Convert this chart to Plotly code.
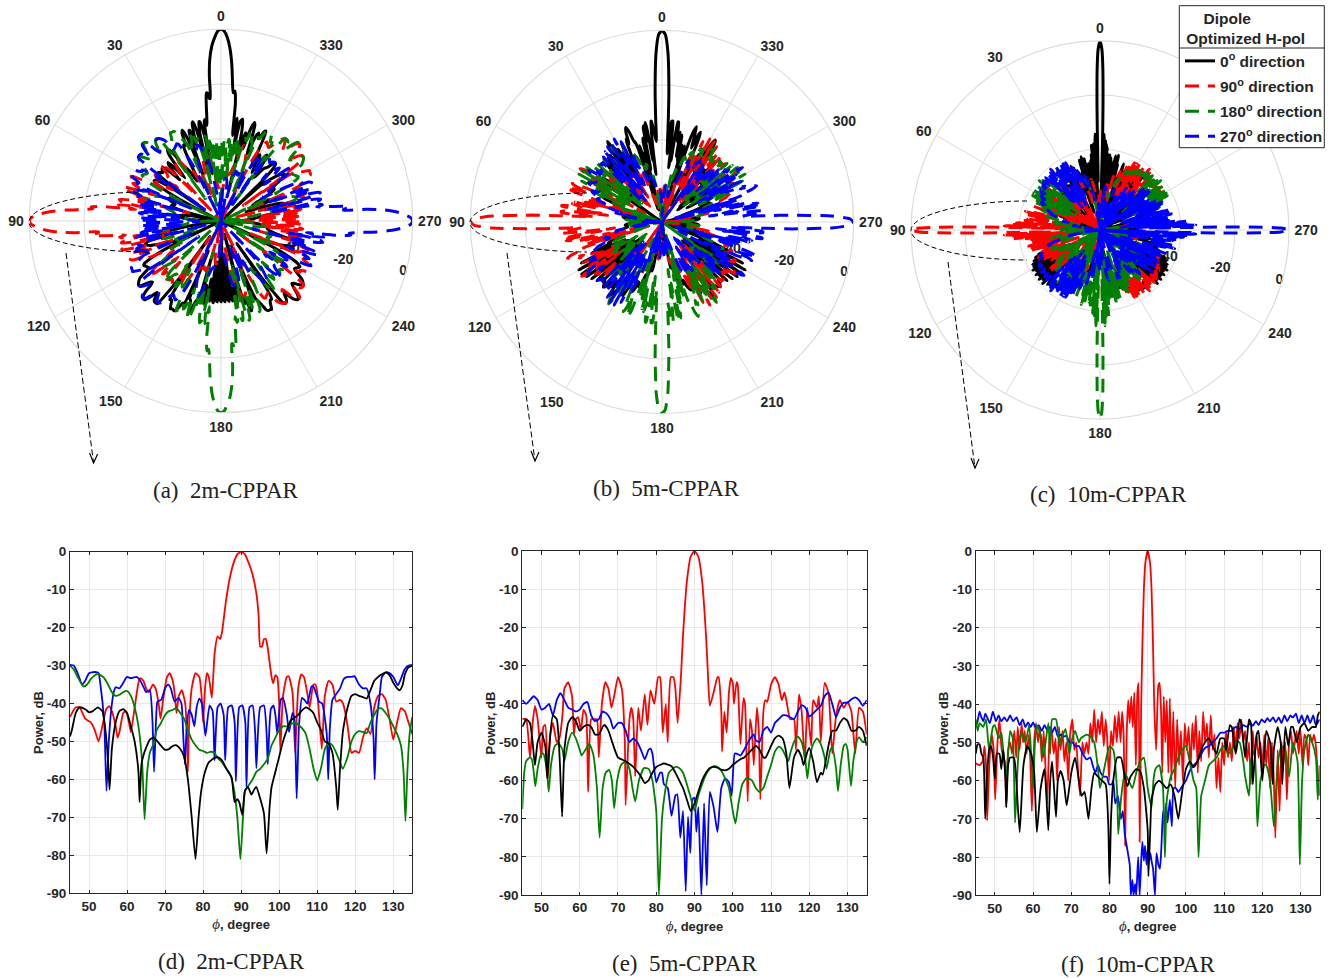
import numpy as np
import plotly.graph_objects as go

W, H = 1332, 978

# ---------- values: (phi degree, power dB) ----------
d_red = [(45,-43.5),(46.5,-41),(47.5,-41),(49,-44),(50.5,-45),(51.5,-47),(52.5,-50),(53.5,-46),(54.5,-41.5),(55.3,-40.7),(56,-42),(57,-46),(57.5,-49),(58,-47.5),(59,-42.5),(59.7,-42),(60.5,-45),(61,-47.5),(62,-41),(63,-34.5),(63.5,-33.3),(64.3,-34),(65,-36),(65.7,-37),(66.8,-35),(67.5,-36),(68.3,-40),(68.8,-44),(69.5,-39),(70.5,-33),(71.2,-32),(72,-34),(72.6,-38),(73,-42.5),(73.6,-38),(74.4,-36.5),(75.3,-40),(75.8,-50),(76,-58),(76.3,-46),(77,-36),(78,-32),(79,-33),(79.6,-38),(80,-45),(80.5,-36),(81,-32),(81.5,-33),(82.3,-38.5),(83,-27),(83.8,-22.3),(84.5,-23),(85,-21),(86,-13),(87,-7),(88,-3),(89,-0.7),(90,0),(91,-0.7),(92,-3),(93,-6),(94,-11),(94.6,-17),(95,-25),(95.5,-25),(96,-23),(96.5,-23),(97,-25.5),(98,-33),(98.4,-34.7),(99,-32.5),(99.5,-33),(100,-40),(100.3,-52.5),(101,-38),(102,-33),(102.5,-32.8),(103.5,-37),(104.2,-53),(105,-36),(105.8,-32.3),(106.5,-33),(107.5,-38),(108,-41),(109,-35),(109.5,-35),(110,-37),(111.2,-52),(112,-38),(113,-34),(114,-35),(115,-39.5),(116,-39),(116.8,-40),(118,-46),(118.5,-50),(119,-53),(120,-52.5),(121,-53),(122,-49),(123,-46.5),(124,-48),(125,-41),(126,-38),(127,-37.5),(128,-39),(129,-44),(130,-49.5),(131,-45),(132,-41.2),(133,-42),(134,-45),(135,-48)]
d_blue = [(45,-29.8),(46,-30),(47,-32),(48.2,-35),(49,-34),(50,-32),(51.5,-31.7),(52.5,-32),(53,-35),(54,-45),(54.6,-63),(55.2,-50),(55.8,-42),(56.5,-37),(57,-35.7),(58,-36),(59,-34.5),(60,-33),(61,-33.3),(62.5,-33),(63.5,-34),(64.5,-36),(65,-37),(66,-36.5),(66.7,-45),(67.1,-58),(67.6,-45),(68,-39.5),(69,-39),(70,-36),(70.8,-35),(71.5,-36),(72.5,-39.5),(73.5,-38.5),(74.3,-40),(74.8,-49),(75.2,-56),(75.7,-46),(76.3,-41.7),(77,-43),(77.7,-46),(78.3,-41),(79,-38.7),(79.7,-40),(80.6,-48.5),(81.7,-40.5),(82.5,-42),(83,-55),(83.8,-41),(84.6,-40),(85.4,-43),(85.8,-55),(86.6,-41),(87.5,-40.5),(88.3,-45),(88.6,-60.5),(89.5,-41),(90.3,-40.5),(91.1,-45),(91.4,-62),(92.2,-41),(93,-40.5),(93.7,-48),(94,-57),(95,-41),(96,-40.5),(96.7,-48),(97,-56),(97.8,-41.5),(98.5,-40.5),(99,-43),(99.5,-48),(100.4,-39),(101,-38.5),(102,-43),(102.6,-47.5),(103.5,-42.5),(104,-44),(104.6,-65),(105.2,-46),(106,-38.5),(106.6,-39),(107.4,-40),(108.5,-35.5),(109,-35.5),(110.5,-39.5),(111.3,-40),(112.5,-48),(112.9,-60),(113.3,-47),(114,-39),(115,-37.5),(116,-36),(117,-33.5),(118,-33),(119,-33),(119.8,-32.8),(121,-35),(122,-36),(123,-36),(124,-40),(124.8,-49),(125.1,-60),(125.6,-45),(126.5,-37),(127,-33),(128,-31.8),(129,-32),(130,-33),(131.2,-35.2),(132,-33.5),(133,-31),(134,-30),(135,-29.8)]
d_black = [(45,-48.7),(45.5,-47),(46.5,-42.5),(47.5,-41),(49,-41.5),(50,-42.3),(51,-42),(52.3,-41),(53.5,-42),(54.2,-46),(55,-55),(55.4,-62.7),(56,-52),(57,-45),(58,-42),(59,-41.5),(60,-42.5),(61,-46),(62,-50),(63,-58),(63.3,-66),(63.8,-56),(64.5,-53),(66,-49.5),(67,-49),(68,-50),(70,-52.2),(71,-52),(72,-51.2),(73,-51),(74,-52),(75,-54),(76,-60),(77,-70),(78,-81),(78.8,-70),(79.5,-63),(80.5,-58),(81.5,-55.5),(83,-54.3),(84,-54.2),(85,-55),(86,-57),(87.5,-59.5),(88.3,-66),(89,-65.2),(89.5,-66),(90.3,-69.3),(91,-63),(91.8,-62),(92.7,-64),(93.5,-62.5),(94,-62),(95,-65),(96,-69),(96.7,-79.5),(97.5,-67),(98,-62),(99,-58),(100,-54),(101,-50),(102,-47),(103,-44.5),(105,-43),(106,-41.8),(107,-41),(108,-41.5),(109,-42.5),(110,-45),(111,-47),(112,-50),(113,-50.5),(114,-53),(115,-62),(115.4,-68),(116,-57),(116.8,-47),(118,-41),(119,-38),(120,-37.5),(121,-38),(122,-38.3),(123,-38.7),(124,-36.5),(125,-34),(126,-33),(127,-32.3),(128,-31.8),(129,-32.5),(130,-34.5),(131,-36),(131.7,-36.5),(132.5,-35),(133,-32.5),(134,-30.5),(135,-30)]
d_green = [(45,-30),(46,-31),(47,-33),(48.5,-35.5),(49.5,-35),(50.5,-33.5),(52,-32.3),(53,-32.5),(54,-33.3),(55,-35),(56,-37),(57,-38),(58,-37.7),(59,-37),(60,-36.7),(61,-38),(62,-41),(63,-46),(64,-56),(64.6,-70.5),(65.3,-58),(66,-53),(67,-50.5),(67.8,-47),(69,-45),(70,-43),(71,-42),(72,-41.7),(73,-41.2),(74,-42.5),(75,-44),(76,-47),(77,-49.5),(78,-51),(79,-52.2),(80,-52.5),(81,-53),(82,-52.7),(83,-53),(84,-54.5),(85,-55.5),(86,-57),(87,-58.5),(88,-62),(89,-70),(89.8,-81),(90.5,-70),(91,-63),(92,-61.5),(93,-60),(94,-58),(95,-57.2),(96,-56),(97,-54.5),(98,-51),(99,-49),(100,-47),(101,-46),(102,-46),(103,-45.5),(104,-45),(105,-45.5),(106,-46.5),(107,-48),(108,-52),(109,-57),(110,-60.3),(111,-57),(112,-52),(113,-50.3),(114,-51),(115,-53),(116,-55.5),(116.7,-57.2),(118,-54),(119,-50),(120,-48),(121,-47.3),(122,-47.5),(123,-47.8),(124,-45),(125,-43),(126,-41.3),(127,-41.3),(128,-42.5),(129,-44),(130,-46),(131,-48),(132,-51),(132.7,-58),(133.2,-71),(133.7,-58),(134.3,-48),(135,-43.5)]

e_red = [(45,-44),(46,-44),(47,-54),(47.7,-45),(48.3,-40.5),(49,-44),(50,-54),(50.5,-46),(51,-45.5),(51.7,-59.5),(52.3,-48),(53,-45),(54,-50),(54.7,-49),(55.5,-43),(56,-36),(57,-34.3),(58,-38),(58.5,-48),(59,-44),(59.6,-43.5),(60.3,-47),(61,-41.5),(61.7,-43),(62.2,-63),(63,-44),(63.8,-44),(64.5,-44),(65,-54),(65.8,-40),(66.7,-34.3),(67.5,-36),(68.3,-41),(69,-38),(70,-33),(71,-36),(71.8,-50),(72,-66.5),(73,-44),(73.5,-41),(74,-44),(74.5,-59),(75.3,-41),(76,-47),(77,-37.5),(77.7,-45.5),(78.5,-36.5),(79.5,-40),(80.5,-33),(81,-33),(81.7,-47.5),(82.5,-40),(83,-50),(83.8,-33),(84.5,-33),(85,-36),(85.6,-45),(86.5,-32),(87,-22),(88,-8),(89,-1.5),(90,0),(91,-1.5),(92,-8),(93,-22),(93.5,-32),(94,-40.5),(95,-37),(96,-33),(96.3,-33),(97,-42),(97.2,-52.5),(97.8,-42),(98.4,-47.5),(99,-37),(99.5,-33.2),(100,-34.5),(100.3,-40),(101,-34.3),(101.3,-35),(102,-50.5),(102.8,-38.5),(103.2,-40),(103.9,-65.5),(104.5,-44),(105,-47),(105.5,-56),(106.3,-41),(106.8,-47),(107.2,-65),(108,-42),(108.5,-39),(109,-39.5),(110,-35),(111,-33),(112,-35),(112.8,-39),(113.5,-37),(114,-39),(115,-44),(116,-44),(116.5,-52),(117.3,-37.5),(118,-42),(118.8,-55),(119.5,-41),(120.5,-51),(121,-39),(122,-41),(122.5,-38),(123,-50),(124,-34.5),(125,-37),(126,-53),(127,-43),(128,-39),(129,-41),(130,-39.5),(131,-42),(132,-53),(133,-41),(134,-42),(135,-48)]
e_blue = [(45,-39),(46,-40),(47,-39),(48,-38),(49,-39),(50,-41.5),(51,-41),(52,-40),(53,-43),(54,-39),(55,-37.2),(56,-39),(57,-41),(58,-41.5),(59,-42),(60,-41.5),(61,-40),(62,-39.5),(63,-43),(64,-44.5),(65,-44),(66,-42),(67,-42.5),(68,-44),(68.8,-46.5),(70,-45),(71,-45),(72,-47),(73,-50),(74,-49),(75,-50),(76,-52),(77,-54.5),(78,-52),(78.5,-51.7),(79,-53),(80,-60.5),(81,-58),(81.5,-58),(82,-61),(83,-62),(84,-69.3),(85,-64),(85.5,-63.7),(86.3,-75),(87,-68),(87.7,-89),(88.3,-69.5),(88.9,-79),(89.5,-65),(90,-64.5),(90.5,-73.5),(91,-67),(91.8,-90),(92.5,-66),(93.2,-87.5),(94,-63),(95,-67),(96,-73.5),(97,-62),(98,-59.5),(99,-60.5),(99.7,-64),(100.5,-53),(101,-53),(102,-53.5),(103,-52),(104,-50),(105,-48.5),(105.5,-48),(106,-49.5),(107,-50),(108,-47),(109,-46),(110,-47.5),(111,-45),(112,-44),(113,-43),(114,-43),(115,-43.5),(116,-44),(117,-42),(118,-40.3),(119,-41),(120,-43.3),(121,-42.5),(122,-41.5),(123,-40.5),(124,-38),(125,-37),(126,-40),(127,-43.5),(128,-41),(129,-39.7),(130,-39.7),(131,-38.8),(132,-38.3),(133,-39),(134,-40.5),(135,-39)]
e_black = [(45,-46),(45.5,-45),(46,-44),(47,-45),(47.7,-50),(48.3,-56),(49,-50),(50,-47.5),(51,-51),(51.5,-59.5),(52,-52),(53,-43),(54,-44),(54.8,-55),(55.4,-69.5),(56,-52),(57,-45),(58,-43.5),(59,-44.5),(60,-47),(61,-46),(62,-45.5),(63,-46),(64,-48),(65,-48),(66,-46),(66.5,-45.5),(67.5,-47),(68.5,-50),(70,-54),(72,-55),(74,-56.5),(76,-59),(77,-60.7),(78,-60),(79,-58),(80,-56.5),(82,-55.6),(84,-56.3),(85,-58),(86,-60),(87,-62),(88,-65),(89,-68),(90,-66),(91,-63),(92,-60),(93,-58),(94,-56.8),(95,-56.5),(96,-56.7),(97,-57.2),(98,-57.4),(99,-57),(100,-56),(102,-54.5),(103,-54),(104,-53),(105,-52),(106,-51),(107,-52),(108,-54),(108.6,-54),(110,-51),(111,-49),(112,-48.3),(113,-49),(114,-53),(114.8,-62),(116,-54),(117,-52),(118,-54),(118.5,-56),(119.5,-52.5),(120,-51.5),(121,-55),(122,-60.5),(123,-58),(123.5,-58.5),(125,-51),(126,-47),(127,-47),(128,-45),(129,-43.7),(130,-44.5),(131,-47),(132,-47),(133,-46),(134,-47),(135,-51)]
e_green = [(45,-67.5),(45.5,-58),(46,-55),(47,-54),(47.5,-54.5),(48,-58),(48.4,-61.5),(49,-57),(50,-53),(50.5,-53),(51.5,-58),(51.9,-63),(52.5,-56),(53.5,-51),(54.5,-50.3),(55.5,-52),(56,-55),(57,-50),(58,-47.5),(59,-49),(60,-52),(60.5,-53.5),(61.5,-52),(62.5,-50.5),(63.5,-53),(64.5,-62),(65.2,-75),(66,-62),(66.8,-58),(67.7,-57.3),(68.4,-60),(69,-67.3),(69.8,-60),(70.8,-56),(72,-55),(73,-57),(73.8,-62),(74.5,-65.5),(75.5,-60),(76.8,-56.8),(78,-57),(79,-60),(80,-68),(80.7,-90),(81.5,-70),(82.3,-63),(83.3,-58),(85,-56.5),(86,-56.8),(87,-58),(88,-61),(89,-64.5),(90,-68),(91,-64),(92,-61),(93,-58.5),(94,-57),(95,-56.3),(96,-56.5),(97,-57.5),(98,-59.5),(99,-62),(100,-68),(100.7,-71.3),(101.5,-66),(102.5,-61),(103.7,-59.3),(105,-60),(106,-62),(107,-63),(108,-62),(109,-59),(110,-56),(111,-52.5),(112,-51.2),(113,-52),(114.5,-55),(115,-53),(116,-50),(117,-48.5),(118,-50),(119,-55),(119.5,-59.5),(120,-55),(121,-50.5),(122,-49),(123,-50.5),(124,-54),(124.5,-57),(125.5,-52),(126,-51.3),(127,-57),(127.5,-62.8),(128.2,-56),(129,-51),(129.5,-50.5),(130,-52),(130.9,-61.5),(131.5,-55),(132.5,-49.5),(133,-48.7),(134,-50),(135,-48.7)]

f_red = [(45,-55.5),(46,-56),(46.8,-55),(47.3,-51),(47.8,-58),(48,-70.5),(48.6,-55),(49.2,-48),(49.7,-52),(50.1,-65),(50.7,-50),(51.2,-44),(51.8,-52),(52.6,-55),(53,-67),(53.5,-52),(54,-50),(54.5,-53),(55.1,-47),(55.6,-54),(56,-46),(56.5,-52),(57,-45),(57.4,-50),(57.8,-47),(58.3,-53),(58.9,-48),(59.3,-55),(59.7,-68),(60.3,-50),(60.8,-45),(61.3,-50),(61.8,-46),(62.3,-55),(62.8,-47),(63.3,-58),(63.7,-66),(64.3,-49),(64.8,-46),(65.4,-53),(65.9,-49),(66.3,-60),(66.8,-46),(67.2,-52),(67.7,-47),(68.2,-55),(68.7,-50),(69.2,-60),(69.7,-48),(70.3,-44),(70.8,-52),(71.3,-50),(71.8,-58),(72.3,-64),(72.9,-50),(73.4,-53),(74,-50),(74.5,-53),(75,-45),(75.5,-50),(76,-41.5),(76.5,-50),(77,-44),(77.5,-48),(78,-42),(78.5,-51),(79,-44),(79.4,-49),(79.9,-60),(80.4,-47),(80.9,-51),(81.4,-43),(81.9,-50),(82.4,-42),(82.9,-50),(83.3,-42),(83.7,-48),(84.1,-77),(84.5,-48),(84.9,-39),(85.3,-45),(85.7,-38),(86.1,-46),(86.5,-37),(86.9,-56),(87.3,-37),(87.6,-34.5),(87.9,-76),(88.3,-40),(88.6,-25),(89,-10),(89.4,-3),(90,0),(90.6,-3),(91,-10),(91.4,-25),(91.7,-40),(92.2,-52),(92.8,-35),(93.1,-34.5),(93.5,-42),(93.8,-58),(94.2,-38),(94.6,-50),(95,-39),(95.4,-58),(95.8,-38.5),(96.2,-60),(96.7,-42),(97.2,-62),(97.7,-44),(98.2,-56),(98.7,-47),(99.2,-60),(99.7,-45),(100.2,-52),(100.7,-46),(101.2,-57),(101.7,-45),(102.1,-52),(102.6,-43),(103.1,-58),(103.5,-47),(104,-55),(104.5,-42),(105,-50),(105.5,-45),(106,-54),(106.5,-43),(107,-52),(107.5,-48),(108,-62),(108.5,-54),(109,-63),(109.5,-50),(110,-56),(110.5,-47),(111,-54),(111.5,-50),(112,-55),(112.5,-46),(113,-52),(113.5,-45),(114,-49),(114.5,-44),(115,-50),(115.5,-47),(116,-55),(116.5,-50),(117,-61),(117.5,-47),(118,-54),(118.5,-48),(119,-54),(119.5,-50),(120,-57),(120.5,-48),(121,-56),(121.5,-49),(122,-62),(122.5,-50),(123,-60),(123.4,-75),(124,-52),(124.5,-68),(125,-50),(125.5,-56),(126,-50),(126.4,-65),(127,-50),(127.5,-47),(128,-53),(128.5,-50),(129,-47),(129.5,-53),(130,-47),(130.5,-56),(131,-48),(131.5,-49),(132,-56),(132.5,-48),(133,-50),(133.5,-48),(134,-51),(134.6,-60),(135,-64)]
f_blue = [(45,-46),(45.5,-44.5),(46,-42),(46.5,-43.5),(47,-44.5),(47.5,-42.5),(48,-43.5),(48.7,-45),(49.5,-42),(50.3,-44.5),(51,-43),(51.7,-44.5),(52.5,-43.5),(53.2,-44.5),(54,-43),(54.8,-44.5),(55.7,-43.5),(56.5,-45.5),(57.3,-44),(58,-46),(58.7,-44.8),(59.4,-46),(60,-44.8),(60.8,-46.5),(61.5,-45.5),(62.3,-47),(63,-45.5),(63.8,-47),(64.5,-46),(65,-47.5),(65.7,-46),(66.5,-48.5),(67.3,-48),(68,-48.5),(68.8,-48.3),(69.5,-50),(70.3,-50),(71,-51),(72,-51),(73,-53),(74,-54.5),(75,-54),(75.6,-56),(76.3,-58),(77,-56),(77.7,-58),(78.5,-59),(79.3,-59),(79.9,-61),(80.6,-61),(81,-60),(81.5,-66),(82.2,-64),(83,-70),(83.5,-68),(84,-74),(84.5,-77),(85,-80),(85.3,-82),(85.6,-90),(86,-86),(86.3,-90),(86.7,-87),(87,-90),(87.5,-80),(87.9,-90),(88.3,-81),(88.6,-76),(89,-81),(89.3,-77),(89.7,-82),(90,-78),(90.4,-81),(90.7,-79),(91,-81),(91.4,-83),(91.9,-90),(92.3,-79),(92.8,-82),(93.2,-83),(93.6,-77),(94,-68),(94.4,-72),(94.8,-66),(95.2,-71),(95.8,-65),(96.3,-72),(96.8,-62),(97.4,-62),(98,-63),(99,-61.5),(100,-60),(101,-57.5),(102,-56),(103,-55),(104,-53),(105,-51.5),(106,-51),(107,-50),(108,-49),(109,-47.5),(110,-47.5),(111,-47),(112,-47),(113,-46),(114,-46.5),(115,-45.5),(116,-46),(116.8,-45),(117.5,-45.7),(118.3,-44.5),(119,-45.5),(119.8,-44),(120.6,-44.8),(121.3,-43.7),(122,-44.5),(122.8,-43.5),(123.5,-44.8),(124.3,-43.5),(125,-45),(125.8,-43),(126.5,-44.5),(127.3,-43),(128,-43.5),(128.8,-42.5),(129.5,-45),(130.3,-43),(131,-45),(131.8,-43),(132.5,-45),(133.3,-43),(134,-45.5),(135,-44)]
f_black = [(45,-53),(45.5,-50.5),(46,-50.5),(46.5,-53),(47,-54),(47.5,-70),(48,-58),(48.5,-52),(49,-51),(49.5,-53.5),(50,-59.5),(50.5,-53),(51.2,-53),(51.7,-57),(52.2,-52),(52.8,-60),(53,-67),(53.5,-56),(54,-54),(55,-54),(55.5,-58),(56.5,-73.5),(57.5,-56),(58.5,-51),(59.5,-53),(60.3,-58),(61,-73.5),(62,-62),(63,-57),(64,-73),(64.5,-60),(65,-55),(66,-69.5),(66.5,-60),(67.2,-57.5),(68,-60),(68.8,-66.5),(70,-58),(71,-54),(72,-60),(72.7,-64),(73.5,-63),(74.5,-70),(75.3,-62),(76,-58),(77,-59),(78,-60),(79,-61),(79.7,-72),(80,-87),(80.4,-70),(81,-60),(82,-54),(83,-54),(84,-59),(84.7,-61.5),(85.5,-59),(87,-57),(88,-57.5),(89,-62),(90,-73),(90.2,-85),(90.7,-72),(91,-65),(92,-61),(93,-60),(94,-61),(95,-62),(96,-61),(97,-64),(98,-70),(99,-63),(100,-57),(101,-55),(102,-56.5),(103,-55),(104,-52),(105,-50),(106,-49),(107,-51),(108,-53),(109,-49),(110,-49),(110.5,-52),(111.5,-45.5),(112,-46),(113,-53),(113.5,-50),(114,-44),(114.5,-45),(115.5,-54),(116.5,-44),(117,-45),(117.5,-61),(118.5,-48),(119,-47),(120,-60),(121,-47),(122,-50),(122.7,-61),(123,-52),(124,-46),(124.8,-50),(125.2,-61),(126,-46),(126.8,-51),(127.5,-46),(128,-46),(129,-50),(130,-46),(131,-45),(132,-47),(133,-46),(134,-46),(134.5,-43),(135,-42)]
f_green = [(45,-44),(45.5,-47),(46,-45),(46.5,-45.5),(47,-46),(47.7,-44),(48.5,-52),(49.5,-46),(50,-45.5),(51,-49),(51.7,-47.5),(52,-50),(53,-59),(54,-47),(54.7,-49),(55.3,-71),(56,-56),(56.5,-49),(57,-47.5),(58,-50),(59,-45.5),(60,-62),(60.5,-50),(61,-45.5),(62,-48),(62.7,-54),(64,-45),(64.5,-53),(65,-44),(66,-44),(67,-51),(67.5,-49),(68.5,-46.5),(69.5,-53),(70,-50),(71,-47),(72,-50),(72.5,-49),(74,-48),(75,-48.5),(76,-50),(77,-57),(77.5,-62),(78,-60),(79,-55),(80,-51),(81,-52),(82,-63),(82.3,-74),(83,-65),(84,-58),(85,-60),(86,-62),(87,-58),(88,-55),(89,-54),(90,-62),(91,-67),(91.5,-60),(92,-57),(93,-56),(94,-62),(94.5,-80),(95,-65),(96,-59),(97,-57),(98,-54),(99,-52),(100,-51),(101,-55),(102,-60),(102.7,-62),(103.3,-80),(104,-64),(105,-60),(106,-56),(107,-55),(108,-54),(109,-52),(110,-51),(111,-53),(112,-52),(113,-50),(114,-50),(115,-55),(115.5,-59),(116.5,-64),(117,-55),(118,-52),(118.7,-72),(119.5,-60),(120.5,-56),(121,-56),(122,-60),(123,-72),(124,-56),(125,-51),(126,-52),(127,-59),(128,-50),(129.2,-55),(129.8,-82),(130.4,-60),(131,-52),(132,-48),(133,-50),(134,-54),(134.5,-65),(135,-56)]

# lobes near 112-135 degrees off the beam (b) and (c)
b_side = [(112,-50),(114,-42),(115.5,-55),(117,-37),(118.5,-56),(120,-35),(121.5,-58),(123,-35),(124.5,-55),(126,-36),(127.5,-60),(129,-37),(130.5,-55),(132,-38),(133.5,-60),(135,-39)]
c_side = [(112,-50),(113,-44),(114,-56),(115,-43),(116,-58),(117,-42),(118,-55),(119,-42),(120,-60),(121,-41),(122,-54),(123,-42),(124,-58),(125,-41),(126,-55),(127,-42),(128,-60),(129,-41),(130,-54),(131,-42),(132,-57),(133,-41),(134,-55),(135,-44)]

panels = [
    dict(black=d_black, red=d_red, green=d_green, blue=d_blue, side=None),
    dict(black=e_black, red=e_red, green=e_green, blue=e_blue, side=b_side),
    dict(black=f_black, red=f_red, green=f_green, blue=f_blue, side=c_side),
]
directions = {"black": 0, "red": 90, "green": 180, "blue": 270}
colors = {"black": "#000000", "red": "#ff0000", "green": "#007f00", "blue": "#0000ff"}
legend_names = {"black": "0<sup>o</sup> direction", "red": "90<sup>o</sup> direction",
                "green": "180<sup>o</sup> direction", "blue": "270<sup>o</sup> direction"}
polar_ticks = list(range(0, 360, 30))
radial_ticks = [-60, -40, -20, 0]
radial_text = ["", "\u00a0\u00a0\u00a0\u00a0-40", "\u00a0\u00a0\u00a0\u00a0-20", "0"]
x_ticks = list(range(50, 140, 10))
y_ticks = list(range(-90, 10, 10))
captions = ["(a)  2m-CPPAR", "(b)  5m-CPPAR", "(c)  10m-CPPAR", "(d)  2m-CPPAR", "(e)  5m-CPPAR", "(f)  10m-CPPAR"]

# ---------- layout, in page pixels ----------
polar_box = [(221, 221, 191.7), (662, 222, 191.7), (1100, 230, 189)]
cart_box = [(70, 412.3, 551.7, 893.3), (522.3, 866.7, 551, 895), (975.7, 1319.7, 551, 895.3)]
caption_pos = [(225, 490), (667, 488), (1108, 495), (231, 961), (684, 963), (1138, 964)]
ellipse_box = [(29, 147, 192, 252), (470, 587, 193, 252), (911, 1027, 201, 260)]
arrow_box = [(66, 253, 93.6, 463), (507, 253, 535, 461), (948, 262, 975, 468)]
TXT = "#262626"
SANS = "Liberation Sans"
def fx(x): return x / W
def fy(y): return 1 - y / H

fig = go.Figure()

def rel_pattern(p):
    """Full 360 degree pattern of one beam, joined from the four 90 degree cuts."""
    side = p["side"]
    t, r = [], []
    def add(points, shift):
        for x, v in points:
            t.append(x + shift)
            r.append(v)
    add(p["red"], -90)
    if side:
        add([q for q in p["black"] if q[0] < side[0][0]], 0)
        add(side, 0)
    else:
        add(p["black"], 0)
    add(p["blue"], 90)
    if side:
        add([(360 - a, v) for a, v in reversed(side)], 0)
        add([q for q in p["green"] if q[0] > 180 - side[0][0]], 180)
    else:
        add(p["green"], 180)
    return np.array(t, float), np.array(r, float)

DASH = "14px,9px"
for i, p in enumerate(panels):
    t, r = rel_pattern(p)
    sub = "polar" if i == 0 else f"polar{i+1}"
    for key in ("black", "red", "green", "blue"):
        line = dict(color=colors[key], width=3, shape="spline", smoothing=0.5)
        if key != "black":
            line["dash"] = DASH
        fig.add_trace(go.Scatterpolar(theta=(t + directions[key]) % 360, r=np.clip(r, -70, 0), mode="lines",
                                      line=line, subplot=sub, name=legend_names[key], legendgroup=key,
                                      showlegend=(i == 2), hoverinfo="skip"))
for i, p in enumerate(panels):
    ax = "" if i == 0 else str(i + 1)
    for key in ("red", "blue", "green", "black"):
        pts = p[key]
        fig.add_trace(go.Scatter(x=[a for a, _ in pts], y=[b for _, b in pts], mode="lines", xaxis="x" + ax, yaxis="y" + ax,
                                 line=dict(color=colors[key], width=1.8, shape="spline", smoothing=0.5),
                                 showlegend=False, hoverinfo="skip"))

layout = dict(width=W, height=H, autosize=False, margin=dict(l=0, r=0, t=0, b=0, autoexpand=False), paper_bgcolor="white", plot_bgcolor="white",
              font=dict(family=SANS, color=TXT), showlegend=True)
for i, (cx, cy, rad) in enumerate(polar_box):
    name = "polar" if i == 0 else f"polar{i+1}"
    angle_text = [str(v) for v in polar_ticks]
    if i == 2:   # the legend box covers these two labels in the third panel
        angle_text = ["" if v in (300, 330) else str(v) for v in polar_ticks]
    layout[name] = dict(
        domain=dict(x=[fx(cx - rad), fx(cx + rad)], y=[fy(cy + rad), fy(cy - rad)]),
        bgcolor="white",
        angularaxis=dict(rotation=90, direction="counterclockwise", tickmode="array", tickvals=polar_ticks, ticktext=angle_text,
                         ticks="outside", ticklen=2, tickcolor="rgba(0,0,0,0)", showline=True, linecolor="#dcdcdc", linewidth=1.2, gridcolor="#dcdcdc", gridwidth=1.2,
                         tickfont=dict(family=SANS, size=14, color=TXT, weight="bold")),
        radialaxis=dict(range=[-70, 0], angle=348, tickangle=-12, tickmode="array", tickvals=radial_ticks, ticktext=radial_text,
                        ticks="", showline=False, gridcolor="#dcdcdc", gridwidth=1.2, layer="below traces",
                        tickfont=dict(family=SANS, size=14, color=TXT, weight="bold")),
    )
PHI = '<span style="font-family:Liberation Serif;font-style:italic;font-weight:normal;font-size:15px">ϕ</span>, degree'
for i, (l, r, t, b) in enumerate(cart_box):
    ax = "" if i == 0 else str(i + 1)
    common = dict(showgrid=True, gridcolor="#e8e8e8", gridwidth=1.3, zeroline=False, showline=True, linecolor=TXT, linewidth=1,
                  mirror="allticks", ticks="inside", ticklen=3.5, tickcolor=TXT, tickwidth=1, tickmode="array",
                  tickfont=dict(family=SANS, size=13.5, color=TXT, weight="bold"))
    layout["xaxis" + ax] = dict(domain=[fx(l), fx(r)], range=[45, 135], tickvals=x_ticks, ticktext=[str(v) for v in x_ticks],
                                anchor="y" + ax, title=dict(text=PHI, standoff=7, font=dict(family=SANS, size=13, color=TXT, weight="bold")), **common)
    layout["yaxis" + ax] = dict(domain=[fy(b), fy(t)], range=[-90, 0], tickvals=y_ticks, ticktext=[str(v) for v in y_ticks],
                                anchor="x" + ax, title=dict(text="Power, dB", standoff=0, font=dict(family=SANS, size=13, color=TXT, weight="bold")), **common)

shapes, annos = [], []
for (l, rgt, top, bot), (x0, y0, x1, y1) in zip(ellipse_box, arrow_box):
    mid = (top + bot) / 2
    pts = lambda x, y: f"{fx(x):.5f},{fy(y):.5f}"
    shapes.append(dict(type="path", xref="paper", yref="paper", line=dict(color="black", width=1, dash="5px,3px"),
                       path=f"M {pts(rgt, top)} C {pts(l + 55, top)} {pts(l, mid - 16)} {pts(l, mid)} C {pts(l, mid + 16)} {pts(l + 55, bot)} {pts(rgt, bot)}"))
    shapes.append(dict(type="line", xref="paper", yref="paper", x0=fx(x0), y0=fy(y0), x1=fx(x1), y1=fy(y1), line=dict(color="black", width=1, dash="6px,3px")))
    shapes.append(dict(type="path", xref="paper", yref="paper", line=dict(color="black", width=1.2),
                       path=f"M {pts(x1 - 4, y1 - 10)} L {pts(x1, y1)} L {pts(x1 + 4, y1 - 9)}"))
shapes.append(dict(type="rect", xref="paper", yref="paper", x0=fx(1179.3), x1=fx(1324.3), y0=fy(147.7), y1=fy(5.7), fillcolor="white", line=dict(color=TXT, width=1)))
shapes.append(dict(type="line", xref="paper", yref="paper", x0=fx(1179.3), x1=fx(1324.3), y0=fy(48), y1=fy(48), line=dict(color=TXT, width=1)))
for text, (x, y) in zip(captions, caption_pos):
    annos.append(dict(text=text, x=fx(x), y=fy(y), xref="paper", yref="paper", showarrow=False, xanchor="center", yanchor="middle",
                      font=dict(family="Liberation Serif", size=23, color="#222222")))
layout["shapes"] = shapes
layout["annotations"] = annos
layout["legend"] = dict(x=fx(1180), y=fy(4), xanchor="left", yanchor="top", bgcolor="rgba(0,0,0,0)", borderwidth=0,
                        font=dict(family=SANS, size=15.5, color=TXT, weight="bold"), traceorder="grouped", tracegroupgap=2,
                        title=dict(text="     Dipole<br> Optimized H-pol", side="top", font=dict(family=SANS, size=15.5, color=TXT, weight="bold")))
fig.update_layout(**layout)
fig.write_html("out.html", config=dict(displayModeBar=False, responsive=False), default_width=f"{W}px", default_height=f"{H}px",
               post_script="document.body.style.margin='0';")
